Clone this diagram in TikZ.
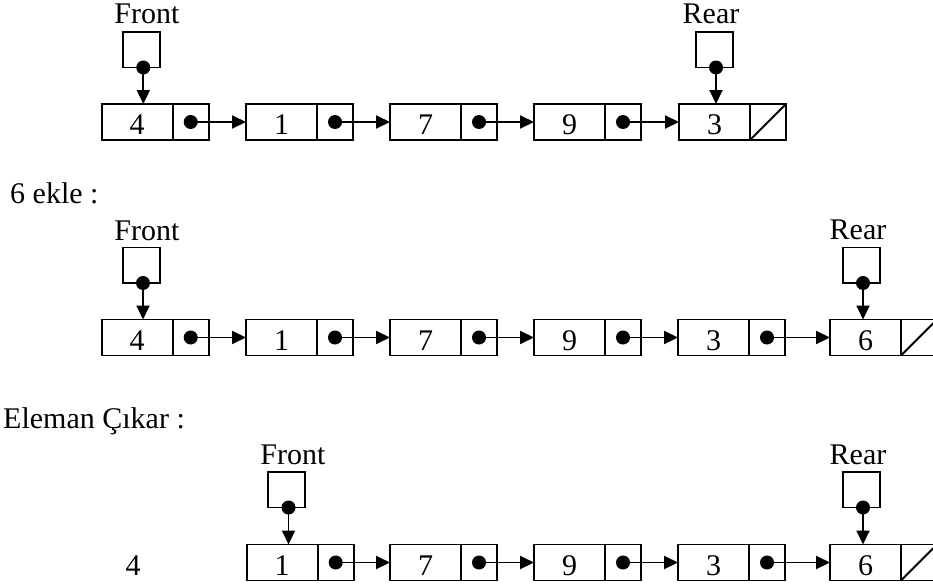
\documentclass[tikz,border=0pt]{standalone}
\usepackage{fontspec}
\setmainfont{Liberation Serif}
\usetikzlibrary{arrows.meta}
\tikzset{
  cell/.style={draw, line width=1.9pt, minimum height=36pt, inner sep=0pt, outer sep=0pt, anchor=north west,
    text height=25pt, text depth=0pt, font=\fontsize{30}{35}\selectfont},
  datacell/.style={cell, minimum width=71pt},
  ptrcell/.style={cell, minimum width=36pt},
  ptrbox/.style={draw, line width=1.9pt, minimum width=37pt, minimum height=35.5pt, inner sep=0pt, outer sep=0pt, anchor=north west},
  ptrdot/.style={circle, fill, inner sep=0pt, minimum size=14pt},
  link/.style={line width=1.9pt, -{Triangle[length=14pt,width=13pt]}},
  lbl/.style={inner sep=0pt, font=\fontsize{30}{35}\selectfont},
  nullline/.style={line width=1.9pt},
}
\begin{document}
\begin{tikzpicture}[x=1pt,y=-1pt]
\useasboundingbox (0,0) rectangle (933,586);

% ---------- Row 1 ----------
\foreach \i/\x/\v in {1/101.7/4,2/246/1,3/390/7,4/534/9,5/679/3}{
  \node[datacell] (a\i) at (\x,104) {\v};
  \node[ptrcell] (ap\i) at (a\i.north east) {};
}
\foreach \i/\j in {1/2,2/3,3/4,4/5}{
  \draw[link] (ap\i.center) -- (a\j.west);
  \node[ptrdot] at (ap\i.center) {};
}
\draw[nullline] (ap5.south west) -- (ap5.north east);

\node[ptrbox] (af) at (123,32) {};
\node[lbl, anchor=base] (aft) at (147,24) {Front};
\node[ptrdot] (afd) at (143.3,67.5) {};
\draw[link] (afd.center) -- (afd.center |- a1.north);

\node[ptrbox] (ar) at (696,32) {};
\node[lbl, anchor=base] (art) at (711,24) {Rear};
\node[ptrdot] (ard) at (716,67.5) {};
\draw[link] (ard.center) -- (ard.center |- a5.north);

% ---------- Row 2 ----------
\node[lbl, anchor=base west] (t2) at (10,203) {6 ekle :};
\foreach \i/\x/\v in {1/101.7/4,2/246/1,3/390/7,4/534/9,5/678/3,6/830/6}{
  \node[datacell] (b\i) at (\x,319.5) {\v};
  \node[ptrcell] (bp\i) at (b\i.north east) {};
}
\foreach \i/\j in {1/2,2/3,3/4,4/5,5/6}{
  \draw[link] (bp\i.center) -- (b\j.west);
  \node[ptrdot] at (bp\i.center) {};
}
\draw[nullline] (bp6.south west) -- (bp6.north east);

\node[ptrbox] (bf) at (123,247.5) {};
\node[lbl, anchor=base] (bft) at (147,240) {Front};
\node[ptrdot] (bfd) at (143,283) {};
\draw[link] (bfd.center) -- (bfd.center |- b1.north);

\node[ptrbox] (br) at (843,247.5) {};
\node[lbl, anchor=base] (brt) at (858,239.5) {Rear};
\node[ptrdot] (brd) at (863,283) {};
\draw[link] (brd.center) -- (brd.center |- b6.north);

% ---------- Row 3 ----------
\node[lbl, anchor=base west] (t3) at (3,428) {Eleman Çıkar :};
\node[lbl, anchor=base] (out) at (133,575) {4};
\foreach \i/\x/\v in {1/246.7/1,2/390/7,3/534/9,4/678/3,5/830/6}{
  \node[datacell] (c\i) at (\x,544.5) {\v};
  \node[ptrcell] (cp\i) at (c\i.north east) {};
}
\foreach \i/\j in {1/2,2/3,3/4,4/5}{
  \draw[link] (cp\i.center) -- (c\j.west);
  \node[ptrdot] at (cp\i.center) {};
}
\draw[nullline] (cp5.south west) -- (cp5.north east);

\node[ptrbox] (cf) at (268,472) {};
\node[lbl, anchor=base] (cft) at (293,464.5) {Front};
\node[ptrdot] (cfd) at (288.5,507.5) {};
\draw[link] (cfd.center) -- (cfd.center |- c1.north);

\node[ptrbox] (cr) at (843,472) {};
\node[lbl, anchor=base] (crt) at (858,464.5) {Rear};
\node[ptrdot] (crd) at (863,507.5) {};
\draw[link] (crd.center) -- (crd.center |- c5.north);
\end{tikzpicture}
\end{document}
